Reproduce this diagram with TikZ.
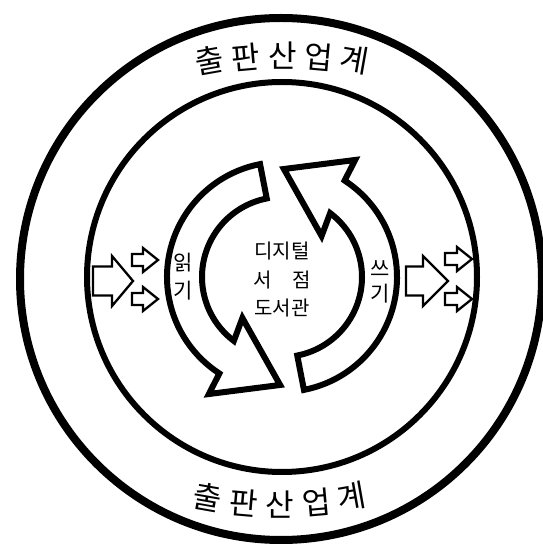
\documentclass[tikz,border=0pt]{standalone}
\usepackage{fontspec}
\setmainfont{Noto Sans CJK KR}
\newcommand\blkarrow[6]{\draw[blk] (#1,#4+#5) -- (#2,#4+#5) -- (#2,#4+#6) -- (#3,#4) -- (#2,#4-#6) -- (#2,#4-#5) -- (#1,#4-#5) -- cycle;}
\begin{document}
\begin{tikzpicture}[x=1pt,y=1pt,
  cyc/.style={draw=black,line width=6pt,fill=white,line join=miter,miter limit=10},
  blk/.style={draw=black,line width=2.3pt,fill=white,line join=miter},
  big/.style={font=\fontsize{31}{31}\selectfont,inner sep=0pt},
  mid/.style={font=\fontsize{20}{20}\selectfont,inner sep=0pt},
  lab/.style={font=\fontsize{21}{21}\selectfont,inner sep=0pt}]
\useasboundingbox (0,0) rectangle (542,544);
\fill[white] (0,0) rectangle (542,544);
\coordinate (C) at (282,267);
\draw[line width=8pt] (281,265) circle[radius=261];
\draw[line width=6pt] (C) circle[radius=195];
\foreach \r in {0,180}{
  \begin{scope}[shift={(282,267)},rotate=\r]
    \draw[cyc] (101:115) arc[start angle=101,end angle=237,radius=115]
      -- (238:138) -- (269:108) -- (226:57) -- (233:80)
      arc[start angle=233,end angle=101,radius=80] -- cycle;
  \end{scope}
}
\blkarrow{93}{112}{133}{263}{14.5}{25}
\blkarrow{132}{143}{158}{284}{6}{12}
\blkarrow{132}{143}{158}{245}{6}{12}
\blkarrow{406}{423}{448}{263}{14.5}{25}
\blkarrow{445}{457}{472}{285}{6}{12}
\blkarrow{445}{457}{472}{245}{6}{12}
% labels
\node[lab] (r1) at (183,281) {읽};
\node[lab] (r2) at (183,253) {기};
\node[lab] (w1) at (380,275) {쓰};
\node[lab] (w2) at (380,250) {기};
\node[mid] (m1) at (282,293) {디지털};
\node[mid] (m2) at (282,264) {서\hspace{1em}점};
\node[mid] (m3) at (282,236) {도서관};
% top arc text
\node[big,rotate=10] (t1) at (209,484) {출};
\node[big,rotate=5] (t2) at (246,487) {판};
\node[big] (t3) at (283,488) {산};
\node[big,rotate=-5] (t4) at (319,487) {업};
\node[big,rotate=-10] (t5) at (355,484) {계};
% bottom arc text
\node[big,rotate=-10] (b1) at (208,47) {출};
\node[big,rotate=-5] (b2) at (244,41) {판};
\node[big] (b3) at (280,39) {산};
\node[big,rotate=5] (b4) at (317,41) {업};
\node[big,rotate=10] (b5) at (352,47) {계};
\end{tikzpicture}
\end{document}
